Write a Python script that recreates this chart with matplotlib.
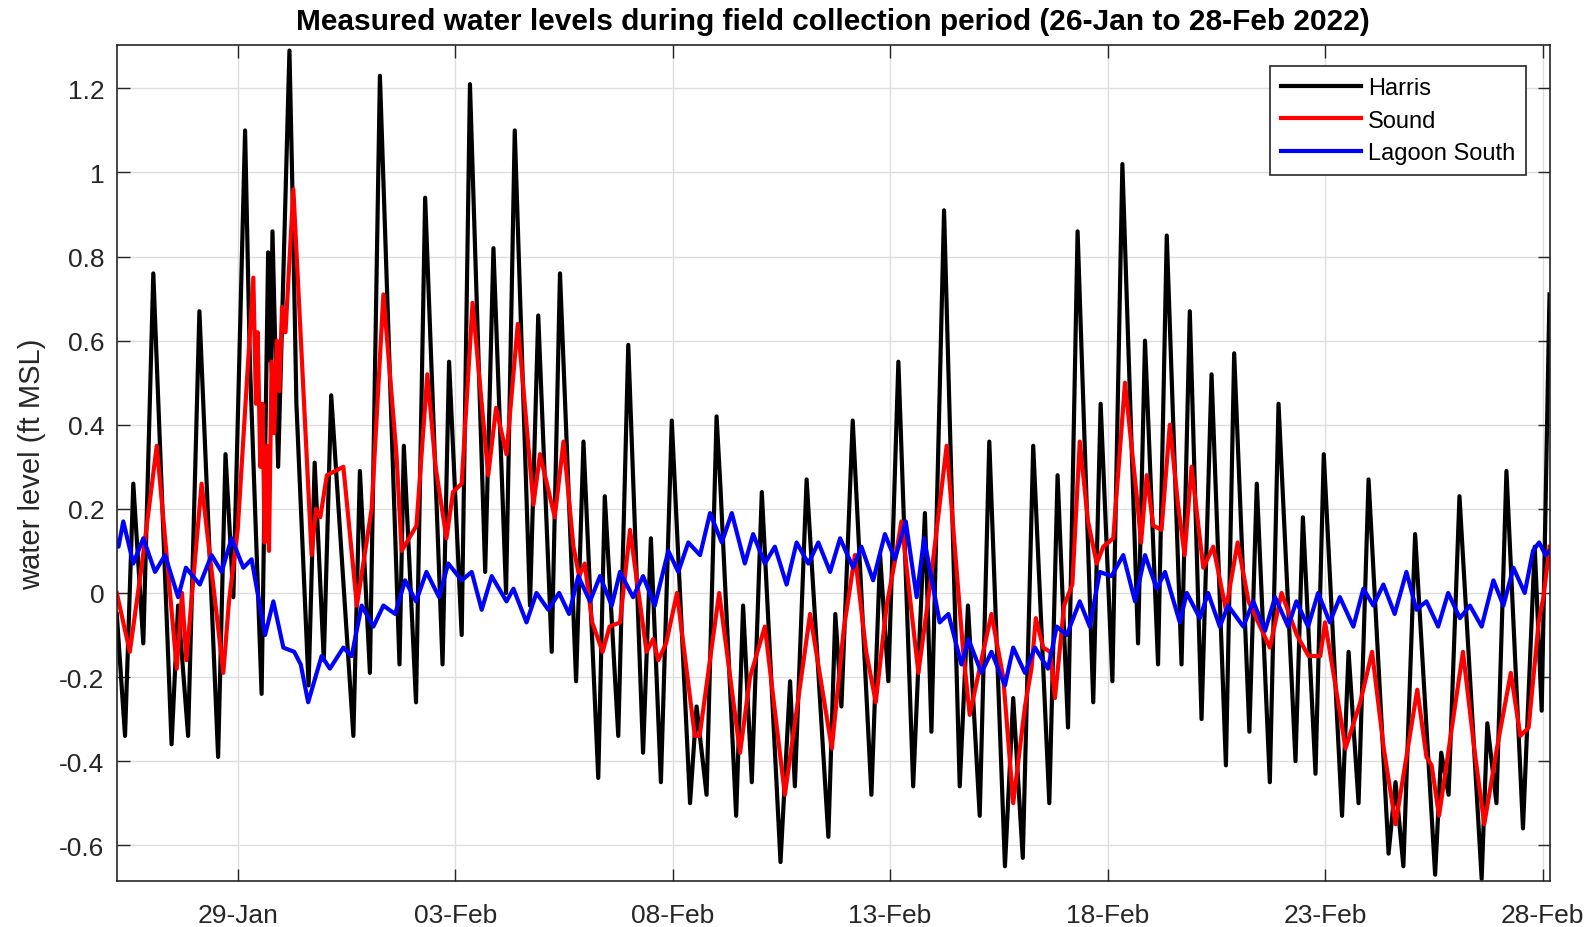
import numpy as np
import pandas as pd
import matplotlib
matplotlib.use('Agg')
import matplotlib.pyplot as plt
import matplotlib.dates as mdates

harris = [
    (0.22, -0.05), (0.41, -0.34), (0.60, 0.26), (0.83, -0.12), (1.06, 0.76), (1.48, -0.36),
    (1.63, -0.03), (1.86, -0.34), (2.12, 0.67), (2.55, -0.39), (2.72, 0.33), (2.90, -0.01),
    (3.17, 1.10), (3.28, 0.55), (3.55, -0.24), (3.70, 0.81), (3.76, 0.55), (3.80, 0.86),
    (3.93, 0.30), (4.19, 1.29), (4.26, 0.95), (4.35, 0.45), (4.63, -0.22), (4.77, 0.31),
    (4.98, -0.16), (5.15, 0.47), (5.66, -0.34), (5.81, 0.29), (6.04, -0.19), (6.27, 1.23),
    (6.72, -0.17), (6.82, 0.35), (7.10, -0.26), (7.31, 0.94), (7.71, -0.17), (7.86, 0.55),
    (8.15, -0.10), (8.34, 1.21), (8.69, 0.05), (8.88, 0.82), (9.17, 0.00), (9.37, 1.10),
    (9.72, -0.03), (9.91, 0.66), (10.22, -0.14), (10.41, 0.76), (10.78, -0.21), (10.95, 0.36),
    (11.29, -0.44), (11.44, 0.23), (11.75, -0.34), (11.98, 0.59), (12.32, -0.38), (12.50, 0.13),
    (12.73, -0.45), (12.98, 0.41), (13.40, -0.50), (13.55, -0.27), (13.78, -0.48), (14.01, 0.42),
    (14.10, 0.25), (14.46, -0.53), (14.62, -0.03), (14.82, -0.45), (15.05, 0.24), (15.48, -0.64),
    (15.70, -0.21), (15.81, -0.46), (16.08, 0.27), (16.58, -0.58), (16.74, -0.05), (16.88, -0.27),
    (17.14, 0.41), (17.57, -0.48), (17.77, 0.09), (17.96, -0.21), (18.19, 0.55), (18.53, -0.46),
    (18.80, 0.19), (18.95, -0.33), (19.24, 0.91), (19.60, -0.46), (19.79, -0.03), (20.06, -0.53),
    (20.28, 0.36), (20.64, -0.65), (20.83, -0.25), (21.05, -0.63), (21.29, 0.35), (21.66, -0.50),
    (21.85, 0.28), (22.09, -0.32), (22.31, 0.86), (22.67, -0.26), (22.84, 0.45), (23.11, -0.21),
    (23.34, 1.02), (23.70, -0.12), (23.86, 0.60), (24.16, -0.17), (24.36, 0.85), (24.70, -0.17),
    (24.89, 0.67), (25.16, -0.30), (25.39, 0.52), (25.72, -0.41), (25.91, 0.57), (26.26, -0.33),
    (26.43, 0.26), (26.73, -0.45), (26.93, 0.45), (27.32, -0.40), (27.49, 0.18), (27.78, -0.43),
    (27.97, 0.33), (28.39, -0.53), (28.54, -0.14), (28.77, -0.50), (29.00, 0.27), (29.46, -0.62),
    (29.62, -0.45), (29.80, -0.65), (30.07, 0.14), (30.53, -0.67), (30.67, -0.38), (30.84, -0.48),
    (31.09, 0.23), (31.60, -0.68), (31.73, -0.31), (31.94, -0.50), (32.17, 0.29), (32.55, -0.56),
    (32.82, 0.11), (32.98, -0.28), (33.16, 0.71),
]

sound = [
    (0.22, 0.00), (0.52, -0.14), (0.80, 0.07), (1.14, 0.35), (1.60, -0.18), (1.72, 0.00),
    (1.82, -0.16), (2.17, 0.26), (2.67, -0.19), (2.80, -0.02), (3.00, 0.15), (3.36, 0.75),
    (3.42, 0.45), (3.46, 0.62), (3.52, 0.30), (3.57, 0.45), (3.62, 0.12), (3.67, 0.35),
    (3.72, 0.10), (3.78, 0.55), (3.84, 0.38), (3.90, 0.60), (3.96, 0.48), (4.02, 0.68),
    (4.10, 0.62), (4.28, 0.96), (4.70, 0.09), (4.80, 0.20), (4.90, 0.18), (5.05, 0.28),
    (5.43, 0.30), (5.74, -0.03), (6.08, 0.20), (6.35, 0.71), (6.65, 0.33), (6.77, 0.10),
    (7.11, 0.16), (7.36, 0.52), (7.55, 0.30), (7.80, 0.13), (7.95, 0.24), (8.15, 0.26),
    (8.40, 0.69), (8.76, 0.28), (8.94, 0.44), (9.18, 0.33), (9.44, 0.64), (9.80, 0.21),
    (9.95, 0.33), (10.29, 0.18), (10.49, 0.36), (10.72, 0.11), (10.85, 0.04), (10.98, 0.07),
    (11.15, -0.07), (11.39, -0.14), (11.55, -0.08), (11.79, -0.07), (12.02, 0.15), (12.40, -0.14),
    (12.55, -0.11), (12.67, -0.16), (12.85, -0.12), (13.10, 0.00), (13.51, -0.34), (13.62, -0.34),
    (14.07, 0.00), (14.55, -0.38), (14.78, -0.20), (15.12, -0.08), (15.58, -0.48), (16.16, -0.05),
    (16.66, -0.37), (16.93, -0.09), (17.19, 0.09), (17.45, -0.14), (17.67, -0.26), (17.92, -0.03),
    (18.10, 0.07), (18.26, 0.17), (18.65, -0.19), (18.92, 0.02), (19.30, 0.35), (19.68, -0.14),
    (19.83, -0.29), (20.12, -0.15), (20.33, -0.05), (20.60, -0.20), (20.83, -0.50), (21.10, -0.27),
    (21.25, -0.18), (21.35, -0.06), (21.52, -0.13), (21.68, -0.14), (21.79, -0.25), (22.00, -0.03),
    (22.19, 0.02), (22.36, 0.36), (22.55, 0.17), (22.75, 0.07), (22.90, 0.11), (23.13, 0.13),
    (23.40, 0.50), (23.67, 0.23), (23.77, 0.12), (23.90, 0.28), (24.05, 0.16), (24.24, 0.15),
    (24.43, 0.40), (24.62, 0.21), (24.77, 0.09), (24.93, 0.30), (25.20, 0.06), (25.43, 0.11),
    (25.72, -0.04), (25.99, 0.12), (26.24, -0.02), (26.73, -0.13), (27.00, 0.00), (27.35, -0.10),
    (27.62, -0.15), (27.89, -0.15), (28.00, -0.07), (28.27, -0.24), (28.47, -0.37), (28.81, -0.26),
    (29.08, -0.14), (29.35, -0.37), (29.62, -0.55), (30.12, -0.23), (30.33, -0.39), (30.45, -0.41),
    (30.62, -0.53), (31.17, -0.14), (31.43, -0.37), (31.66, -0.55), (31.95, -0.37), (32.27, -0.19),
    (32.49, -0.34), (32.68, -0.32), (32.91, -0.07), (33.02, -0.01), (33.16, 0.11),
]

lagoon_south = [
    (0.18, 0.13), (0.26, 0.11), (0.37, 0.17), (0.60, 0.07), (0.83, 0.13), (1.10, 0.05),
    (1.33, 0.09), (1.63, -0.01), (1.81, 0.06), (2.13, 0.02), (2.40, 0.09), (2.63, 0.05),
    (2.86, 0.13), (3.13, 0.06), (3.32, 0.08), (3.63, -0.10), (3.82, -0.02), (4.05, -0.13),
    (4.30, -0.14), (4.45, -0.17), (4.62, -0.26), (4.93, -0.15), (5.12, -0.18), (5.43, -0.13),
    (5.62, -0.15), (5.85, -0.03), (6.12, -0.08), (6.35, -0.03), (6.62, -0.05), (6.85, 0.03),
    (7.10, -0.02), (7.34, 0.05), (7.63, -0.01), (7.84, 0.07), (8.15, 0.03), (8.38, 0.05),
    (8.61, -0.04), (8.84, 0.04), (9.18, -0.02), (9.34, 0.01), (9.64, -0.07), (9.87, 0.00),
    (10.14, -0.04), (10.39, 0.00), (10.62, -0.05), (10.83, 0.04), (11.10, -0.02), (11.33, 0.04),
    (11.60, -0.03), (11.79, 0.05), (12.09, -0.01), (12.32, 0.04), (12.59, -0.03), (12.90, 0.10),
    (13.13, 0.05), (13.36, 0.12), (13.63, 0.09), (13.86, 0.19), (14.13, 0.12), (14.36, 0.19),
    (14.66, 0.07), (14.85, 0.14), (15.12, 0.07), (15.35, 0.11), (15.62, 0.02), (15.85, 0.12),
    (16.12, 0.07), (16.35, 0.12), (16.62, 0.05), (16.85, 0.13), (17.15, 0.06), (17.34, 0.11),
    (17.61, 0.03), (17.88, 0.14), (18.11, 0.08), (18.36, 0.17), (18.61, -0.01), (18.78, 0.13),
    (19.14, -0.07), (19.34, -0.05), (19.64, -0.17), (19.80, -0.11), (20.10, -0.19), (20.33, -0.14),
    (20.64, -0.22), (20.83, -0.13), (21.10, -0.19), (21.33, -0.13), (21.63, -0.18), (21.83, -0.08),
    (22.06, -0.10), (22.36, -0.02), (22.59, -0.08), (22.82, 0.05), (23.09, 0.04), (23.36, 0.09),
    (23.63, -0.02), (23.86, 0.09), (24.13, 0.01), (24.32, 0.05), (24.66, -0.07), (24.82, 0.00),
    (25.12, -0.06), (25.31, 0.00), (25.58, -0.08), (25.77, -0.03), (26.12, -0.08), (26.35, -0.02),
    (26.62, -0.09), (26.85, -0.01), (27.15, -0.08), (27.34, -0.02), (27.61, -0.08), (27.84, 0.00),
    (28.11, -0.07), (28.34, -0.01), (28.65, -0.08), (28.88, 0.01), (29.11, -0.03), (29.34, 0.02),
    (29.60, -0.05), (29.87, 0.05), (30.10, -0.04), (30.33, -0.02), (30.60, -0.08), (30.83, 0.00),
    (31.10, -0.06), (31.33, -0.03), (31.60, -0.08), (31.87, 0.03), (32.10, -0.03), (32.33, 0.06),
    (32.59, 0.00), (32.78, 0.10), (32.92, 0.12), (33.07, 0.09), (33.16, 0.10),
]

series_names = ['Harris', 'Sound', 'Lagoon South']
series_colors = ['black', 'red', 'blue']
tick_dates = ['2022-01-29', '2022-02-03', '2022-02-08', '2022-02-13',
              '2022-02-18', '2022-02-23', '2022-02-28']
y_ticks = [-0.6, -0.4, -0.2, 0, 0.2, 0.4, 0.6, 0.8, 1, 1.2]

t0 = pd.Timestamp('2022-01-26')


def to_time(pairs):
    d = np.array([p[0] for p in pairs])
    v = np.array([p[1] for p in pairs])
    t = (t0 + pd.to_timedelta(d, unit='D')).to_numpy()
    return t, v


plt.rcParams['font.family'] = ['Liberation Sans', 'DejaVu Sans']

fig = plt.figure(figsize=(15.93, 9.28), dpi=100)
ax = fig.add_axes([0.0733, 0.0496, 0.8994, 0.9012])

for data, name, col in zip([harris, sound, lagoon_south], series_names, series_colors):
    t, v = to_time(data)
    ax.plot(t, v, color=col, lw=3.0, label=name, solid_joinstyle='round')

ax.set_xlim(t0 + pd.Timedelta(days=0.22), t0 + pd.Timedelta(days=33.16))
ax.set_ylim(-0.685, 1.304)
ax.set_xticks(pd.to_datetime(tick_dates).to_numpy())
ax.xaxis.set_major_formatter(mdates.DateFormatter('%d-%b'))
ax.set_yticks(y_ticks)
ax.set_yticklabels([f'{y:g}' for y in y_ticks])

ax.grid(True, color='#dedede', lw=1)
ax.set_axisbelow(True)
ax.tick_params(direction='in', length=9, width=1, top=True, right=True,
               labelsize=19, colors='#262626', pad=9)
ax.tick_params(axis='x', pad=16)
for s in ax.spines.values():
    s.set_color('#262626')
    s.set_linewidth(1.2)

ax.set_ylabel('water level (ft MSL)', fontsize=21, color='#262626', labelpad=9)
ax.set_title('Measured water levels during field collection period (26-Jan to 28-Feb 2022)',
             fontsize=21.5, fontweight='bold', pad=11)

leg = ax.legend(loc='upper right', bbox_to_anchor=(0.9835, 0.974), borderaxespad=0,
                fontsize=17, handlelength=3.4, handletextpad=0.3, labelspacing=0.45,
                borderpad=0.45, fancybox=False, framealpha=1, edgecolor='#262626')
leg.get_frame().set_linewidth(1.2)

fig.savefig('out.png', dpi=100)
